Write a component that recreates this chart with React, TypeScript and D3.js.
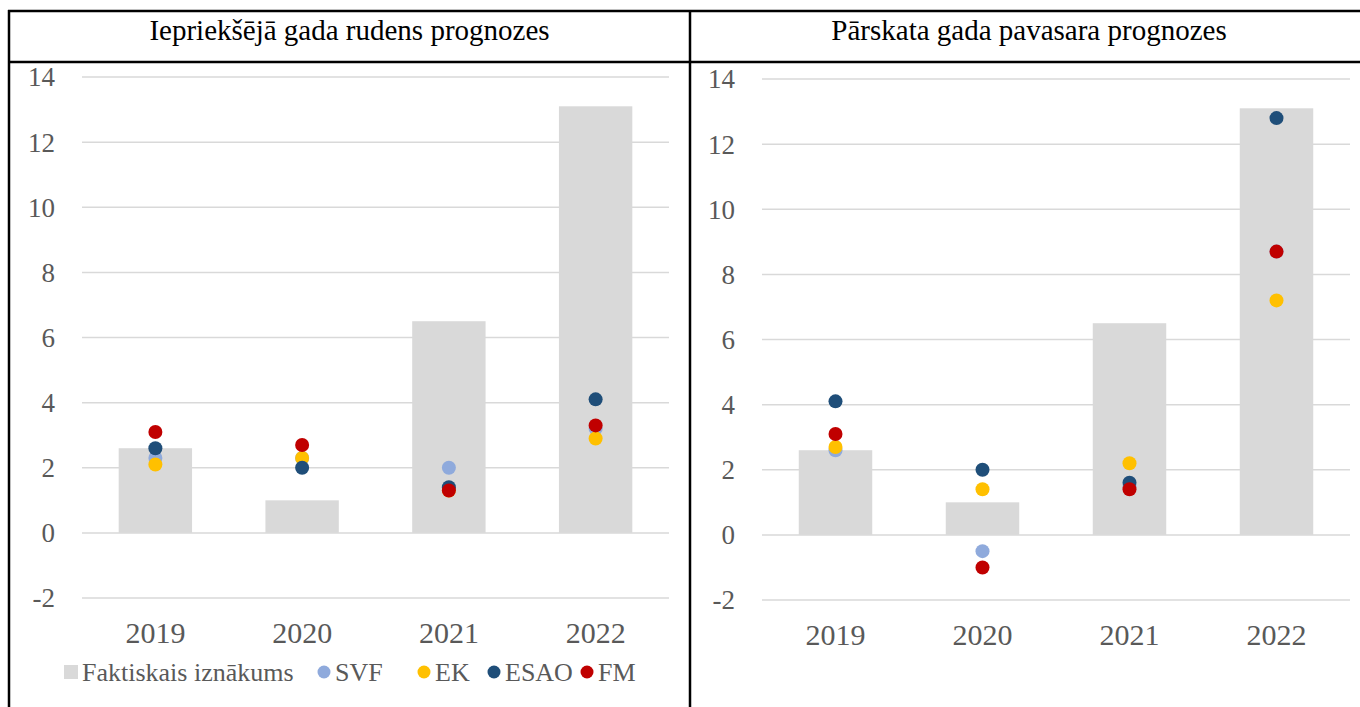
import * as d3 from 'd3';

const years = ['2019', '2020', '2021', '2022'];
const actual = [2.6, 1.0, 6.5, 13.1];
const yTicks = [-2, 0, 2, 4, 6, 8, 10, 12, 14];

// previous-year autumn forecasts
const autumnSVF = [2.3, 2.3, 2.0, 3.2];
const autumnEK = [2.1, 2.3, 1.3, 2.9];
const autumnESAO = [2.6, 2.0, 1.4, 4.1];
const autumnFM = [3.1, 2.7, 1.3, 3.3];

// current-year spring forecasts
const springSVF = [2.6, -0.5, 1.5, 8.7];
const springEK = [2.7, 1.4, 2.2, 7.2];
const springESAO = [4.1, 2.0, 1.6, 12.8];
const springFM = [3.1, -1.0, 1.4, 8.7];

const seriesNames = ['SVF', 'EK', 'ESAO', 'FM'];
const seriesColors = ['#8faadc', '#ffc000', '#1f4e79', '#c00000'];
const barName = 'Faktiskais iznākums';

const font = "'Times New Roman', Tinos, 'Liberation Serif', 'DejaVu Serif', 'Noto Serif', serif";

const Panel = ({x0, x1, y0, y1, series, legend}) => {
  const x = d3.scaleBand().domain(years).range([x0, x1]).paddingInner(0.5).paddingOuter(0.25);
  const y = d3.scaleLinear().domain([-2, 14]).range([y0, y1]);
  const xc = (d: string) => x(d)! + x.bandwidth() / 2;
  return (
    <g>
      {yTicks.map(t => (
        <g key={t}>
          <line x1={x0} x2={x1} y1={y(t)} y2={y(t)} stroke="#d9d9d9" strokeWidth={1.5} />
          <text x={x0 - 27} y={y(t)} dy="0.35em" textAnchor="end" fontSize={27} fill="#595959">
            {t}
          </text>
        </g>
      ))}
      {years.map((yr, i) => (
        <rect key={yr} x={x(yr)} width={x.bandwidth()} y={y(Math.max(0, actual[i]))}
          height={Math.abs(y(actual[i]) - y(0))} fill="#d9d9d9" />
      ))}
      {series.map((vals, s) =>
        years.map((yr, i) =>
          vals[i] == null ? null : (
            <circle key={s + yr} cx={xc(yr)} cy={y(vals[i])} r={7} fill={seriesColors[s]} />
          ),
        ),
      )}
      {years.map(yr => (
        <text key={yr} x={xc(yr)} y={y(-2) + 45} textAnchor="middle" fontSize={30} fill="#595959">
          {yr}
        </text>
      ))}
      {legend}
    </g>
  );
};

const Legend = () => {
  const items = [
    {label: barName, color: '#d9d9d9', rect: true, x: 64},
    ...seriesNames.map((n, i) => ({label: n, color: seriesColors[i], rect: false, x: [317, 417, 487, 580][i]})),
  ];
  const cy = 672;
  return (
    <g fontSize={26} fill="#595959">
      {items.map(it => (
        <g key={it.label}>
          {it.rect ? (
            <rect x={it.x} y={cy - 7} width={14} height={14} fill={it.color} />
          ) : (
            <circle cx={it.x + 7} cy={cy} r={6.5} fill={it.color} />
          )}
          <text x={it.x + 18} y={cy} dy="0.35em">{it.label}</text>
        </g>
      ))}
    </g>
  );
};

export default function App() {
  return (
    <svg width={1360} height={707} fontFamily={font} style={{position: 'absolute', left: 0, top: 0, background: '#fff'}}>
      <g stroke="#000" strokeWidth={2.5}>
        <line x1={8} x2={1362} y1={11} y2={11} />
        <line x1={8} x2={1362} y1={62} y2={62} />
        <line x1={9} x2={9} y1={10} y2={707} />
        <line x1={690} x2={690} y1={10} y2={707} />
      </g>
      <text x={349.5} y={30} dy="0.35em" textAnchor="middle" fontSize={29} fill="#000">
        Iepriekšējā gada rudens prognozes
      </text>
      <text x={1029} y={30} dy="0.35em" textAnchor="middle" fontSize={29} fill="#000">
        Pārskata gada pavasara prognozes
      </text>
      <Panel x0={82} x1={669} y0={598} y1={77}
        series={[autumnSVF, autumnEK, autumnESAO, autumnFM]} legend={<Legend />} />
      <Panel x0={762} x1={1350} y0={600} y1={79}
        series={[springSVF, springEK, springESAO, springFM]} legend={null} />
    </svg>
  );
}
